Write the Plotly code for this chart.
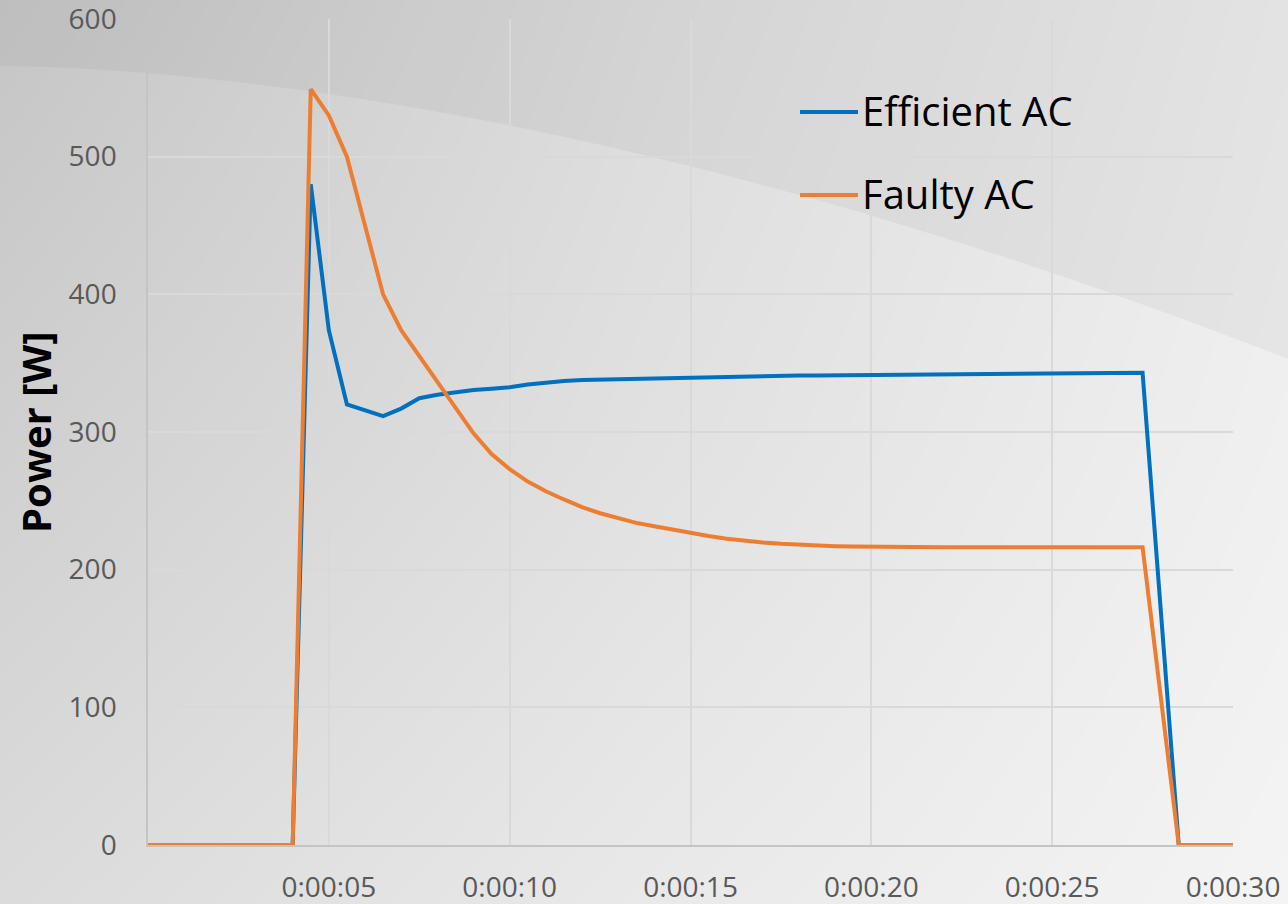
import numpy as np
import plotly.graph_objects as go

# Time axis in seconds and the measured power of each air conditioner [W]
time_s = [0, 4, 4.5, 5, 5.5, 6, 6.5, 7, 7.5, 8, 8.5, 9, 9.5, 10, 10.5, 11, 11.5,
          12, 12.5, 13, 13.5, 14, 14.5, 15, 15.5, 16, 16.5, 17, 17.5, 18, 18.5,
          19, 19.5, 20, 21, 22, 23, 24, 25, 26, 27, 27.5, 28.5, 30]

efficient_ac = [0, 0, 480, 374, 320, 315.5, 311.5, 317, 324.5, 327, 329, 330.5,
                331.5, 332.5, 334.5, 336, 337, 337.7, 338, 338.3, 338.6, 339,
                339.4, 339.8, 340.1, 340.4, 340.6, 340.8, 340.9, 341, 341.1,
                341.2, 341.3, 341.3, 341.5, 341.7, 341.9, 342, 342.2, 342.5,
                342.8, 343, 0, 0]

faulty_ac = [0, 0, 549, 530, 500, 450, 400, 374, 355, 336, 317, 299, 284, 273,
             264, 257, 251, 245.5, 241, 237.5, 234, 231.5, 229, 226.5, 224.5,
             222.5, 221, 219.8, 218.8, 218, 217.5, 217.1, 216.8, 216.6, 216.4,
             216.3, 216.2, 216.2, 216.2, 216.2, 216.2, 216.2, 0, 0]

series_names = ["Efficient AC", "Faulty AC"]
series_colors = ["#0070C0", "#ED7D31"]

tick_vals = [5, 10, 15, 20, 25, 30]
tick_text = ["0:00:05", "0:00:10", "0:00:15", "0:00:20", "0:00:25", "0:00:30"]
y_ticks = [0, 100, 200, 300, 400, 500, 600]

W, H = 1288, 904
FONT = "Open Sans"

fig = go.Figure()

# ---- slide-style backdrop on a full-page helper subplot (x / y) ----
bg_x = [0, W / 2, W]
bg_y = [0, H / 2, H]
bg_level = [[197, 220, 237],
            [208, 225, 240],
            [219, 233, 244]]
fig.add_trace(go.Heatmap(
    x=bg_x, y=bg_y, z=bg_level, zsmooth="best", showscale=False,
    colorscale=[[0, "rgb(0,0,0)"], [1, "rgb(255,255,255)"]], zmin=0, zmax=255,
    hoverinfo="skip", xaxis="x", yaxis="y"))

# soft darker sweep across the top of the slide
sx = np.linspace(0, W, 120)
sy = 66 + 0.001312 * sx ** 1.72
fig.add_trace(go.Scatter(
    x=np.concatenate([sx, [W, 0]]), y=np.concatenate([sy, [0, 0]]),
    fill="toself", fillcolor="rgba(95,100,105,0.07)", mode="none",
    hoverinfo="skip", showlegend=False, xaxis="x", yaxis="y"))

# ---- power curves on the chart subplot (x2 / y2) ----
for name, vals, col in zip(series_names, [efficient_ac, faulty_ac], series_colors):
    fig.add_trace(go.Scatter(
        x=time_s, y=vals, name=name, mode="lines",
        line=dict(color=col, width=4), cliponaxis=False,
        showlegend=False, xaxis="x2", yaxis="y2"))

# legend drawn as line samples with labels
leg_y = [1 - 112 / H, 1 - 195 / H]
for name, col, yy in zip(series_names, series_colors, leg_y):
    fig.add_shape(type="line", xref="paper", yref="paper",
                  x0=800 / W, x1=858 / W, y0=yy, y1=yy,
                  line=dict(color=col, width=4))
    fig.add_annotation(text=name, xref="paper", yref="paper",
                       x=860 / W, y=yy + 2 / H, xanchor="left", yanchor="middle",
                       showarrow=False, font=dict(family=FONT, size=40, color="#000000"))

fig.add_annotation(text="<b>Power [W]</b>", xref="paper", yref="paper",
                   x=35 / W, y=1 - 433 / H, textangle=-90, showarrow=False,
                   xanchor="center", yanchor="middle",
                   font=dict(family=FONT, size=40, color="#000000"))

grid_col = "#D9D9D9"
fig.update_layout(
    width=W, height=H, autosize=False,
    margin=dict(l=0, r=0, t=0, b=0, pad=0, autoexpand=False),
    paper_bgcolor="#DCDDDF", plot_bgcolor="rgba(0,0,0,0)",
    showlegend=False,
    xaxis=dict(domain=[0, 1], range=[0, W], visible=False, fixedrange=True,
               automargin=False),
    yaxis=dict(domain=[0, 1], range=[H, 0], visible=False, fixedrange=True,
               automargin=False),
    xaxis2=dict(domain=[148 / W, 1233 / W], range=[0, 30], anchor="y2",
                tickvals=tick_vals, ticktext=tick_text, automargin=False,
                showgrid=True, gridcolor=grid_col, gridwidth=1.5,
                showline=True, linecolor="#C4C4C4", linewidth=1.5,
                zeroline=False, ticks="", ticklabelstandoff=17,
                ticklabeloverflow="allow",
                tickfont=dict(family=FONT, size=28, color="#595959")),
    yaxis2=dict(domain=[1 - 845 / H, 1 - 19 / H], range=[0, 600], anchor="x2",
                tickvals=y_ticks, automargin=False,
                showgrid=True, gridcolor=grid_col, gridwidth=1.5,
                showline=True, linecolor="#C4C4C4", linewidth=1.5,
                zeroline=False, ticks="", ticklabelstandoff=24,
                ticklabeloverflow="allow",
                tickfont=dict(family=FONT, size=28, color="#595959")),
)

fig.write_html("out.html")
